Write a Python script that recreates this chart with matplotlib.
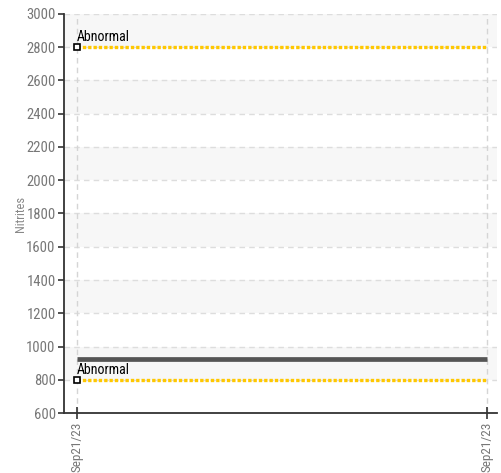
import matplotlib
matplotlib.use("Agg")
import matplotlib.pyplot as plt
import matplotlib.dates as mdates
from matplotlib import font_manager
from datetime import datetime

# data
times = [datetime(2023, 9, 21, 9, 0), datetime(2023, 9, 21, 17, 0)]
nitrites = [925, 925]
abnormal_high = 2800
abnormal_low = 800
y_ticks = list(range(600, 3001, 200))

names = {f.name for f in font_manager.fontManager.ttflist}
font = 'DejaVu Sans'
for cand in ['Roboto Condensed', 'Liberation Sans Narrow', 'Roboto']:
    if cand in names:
        font = cand
        break
plt.rcParams['font.family'] = [font, 'DejaVu Sans']

fig = plt.figure(figsize=(5.02, 4.73), dpi=100)
ax = fig.add_axes([64 / 502, 1 - 413 / 473, 433 / 502, 399 / 473])

span = times[1] - times[0]
ax.set_xlim(times[0] - span * 13 / 410, times[1] + span * 10 / 410)
ax.set_ylim(600, 3000)

# alternating bands
for i, lo in enumerate(y_ticks[:-1]):
    if i % 2 == 1:
        ax.axhspan(lo, lo + 200, color='#f7f7f7', zorder=0, lw=0)

for y in y_ticks[1:]:
    ax.axhline(y, color='#dddddd', lw=1, ls=(0, (4, 3)), zorder=1)
for t in times:
    ax.axvline(t, color='#d5d5d5', lw=1, ls=(0, (4, 3)), zorder=1)

# abnormal limits
for lim in [abnormal_high, abnormal_low]:
    ax.plot(times, [lim, lim], color='#ffc800', lw=2.4, ls=(0, (1, 0.6)), zorder=3)
    ax.plot(times[0], lim, marker='s', ms=5, mfc='white', mec='black', mew=1.2, zorder=5)
    ax.text(times[0], lim + 18, 'Abnormal', fontsize=10, color='#000000',
            ha='left', va='bottom', zorder=6)

# measurement
ax.plot(times, nitrites, color='#555555', lw=3.4, solid_capstyle='butt', zorder=4)

ax.set_yticks(y_ticks)
ax.set_xticks(times)
ax.xaxis.set_major_formatter(mdates.DateFormatter('%b%d/%y'))
ax.tick_params(axis='y', colors='#333333', labelcolor='#777777', labelsize=10.5, length=4,
               width=1.2, pad=2)
ax.tick_params(axis='x', colors='#333333', labelcolor='#777777', labelsize=9.5, length=8,
               width=1.2, direction='inout', labelrotation=90, pad=2)
ax.set_ylabel('Nitrites', color='#888888', fontsize=9)
ax.yaxis.set_label_coords(-37 / 433, 0.5)

for s in ['top', 'right']:
    ax.spines[s].set_visible(False)
for s in ['left', 'bottom']:
    ax.spines[s].set_color('#333333')
    ax.spines[s].set_linewidth(1.3)

fig.savefig('out.png', dpi=100)
